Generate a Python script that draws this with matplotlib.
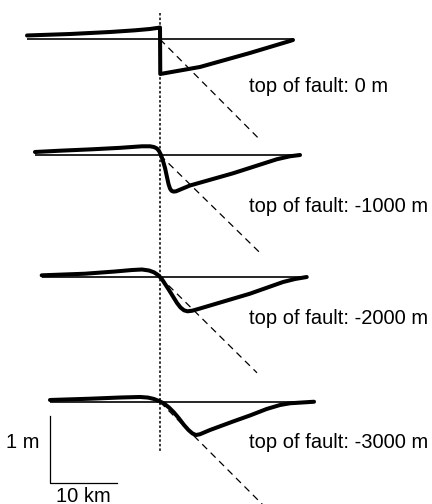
import matplotlib
matplotlib.use('Agg')
import matplotlib.pyplot as plt

plt.rcParams['font.family'] = ['Liberation Sans', 'DejaVu Sans']
plt.rcParams['lines.scale_dashes'] = False

# ---- data (x in km from fault trace, vertical displacement in m) ----
fault_top_labels = ["top of fault: 0 m", "top of fault: -1000 m",
                    "top of fault: -2000 m", "top of fault: -3000 m"]

p1_x = [-19.85, -13.43, -7.46, -3.73, -1.49, -0.15, 0.0, 0.04, 5.97, 13.43, 19.40, 19.85]
p1_y = [0.057, 0.079, 0.109, 0.134, 0.154, 0.173, 0.176, -0.518, -0.413, -0.204, -0.025, -0.010]

p2_x = [-18.66, -14.93, -10.15, -5.97, -2.69, -1.49, -0.90, -0.45, -0.15, 0.15, 0.45,
        0.75, 1.04, 1.27, 1.49, 1.72, 2.01, 2.39, 4.48, 10.90, 17.42, 19.40, 20.90]
p2_y = [0.045, 0.064, 0.085, 0.107, 0.130, 0.130, 0.119, 0.097, 0.060, 0.0, -0.090,
        -0.194, -0.328, -0.433, -0.500, -0.534, -0.546, -0.542, -0.455, -0.273, -0.064,
        -0.019, 0.0]

p3_x = [-17.66, -11.19, -6.72, -4.22, -2.69, -1.64, -0.90, -0.30, 0.22, 0.75, 1.34,
        1.94, 2.54, 3.06, 3.58, 4.10, 4.78, 5.97, 13.43, 18.36, 20.15, 21.90]
p3_y = [0.025, 0.049, 0.082, 0.104, 0.112, 0.097, 0.070, 0.030, -0.022, -0.104, -0.194,
        -0.291, -0.388, -0.455, -0.497, -0.512, -0.504, -0.470, -0.249, -0.075, -0.030, 0.0]

p4_x = [-16.42, -10.45, -5.97, -2.99, -1.79, -0.90, -0.15, 0.60, 1.34, 2.09, 2.84,
        3.58, 4.25, 4.85, 5.37, 5.97, 7.46, 10.90, 13.43, 15.93, 17.91, 19.40, 22.99]
p4_y = [0.030, 0.049, 0.067, 0.075, 0.066, 0.045, 0.015, -0.022, -0.082, -0.157, -0.246,
        -0.343, -0.418, -0.470, -0.493, -0.481, -0.418, -0.291, -0.201, -0.104, -0.045,
        -0.019, 0.004]

profiles_x = [p1_x, p2_x, p3_x, p4_x]
profiles_y = [p1_y, p2_y, p3_y, p4_y]

# fault-plane sketch end points (km, m) relative to the surface trace
fault_end_x = [14.93, 14.93, 14.48, 16.4]
fault_end_y = [-1.50, -1.46, -1.43, -1.64]

# ---- layout ----
PX_KM = 6.7   # pixels per km
PX_M = 67.0   # pixels per m
baseline_px = [39.3, 155.0, 277.0, 402.0]
label_px = [86, 207, 319, 442]

fig = plt.figure(figsize=(4.32, 5.04), dpi=100)
ax = fig.add_axes([0, 0, 1, 1])
ax.set_xlim(-160 / PX_KM, (432 - 160) / PX_KM)
ax.set_ylim(-504 / PX_M, 0)
ax.axis('off')

for i in range(4):
    off = -baseline_px[i] / PX_M
    xs = profiles_x[i]
    ys = [v + off for v in profiles_y[i]]
    ax.plot([xs[0], xs[-1]], [off, off], color='black', lw=1.2, solid_capstyle='butt')
    ax.plot(xs, ys, color='black', lw=2.9, solid_joinstyle='round', solid_capstyle='round')
    ax.plot([0, fault_end_x[i]], [off, off + fault_end_y[i]], color='black', lw=0.9,
            linestyle=(0, (5, 3.6)))
    ax.text((249 - 160) / PX_KM, -label_px[i] / PX_M, fault_top_labels[i],
            ha='left', va='center', fontsize=14.5, color='black')

# vertical dotted line through fault trace
ax.plot([0, 0], [-13 / PX_M, -452 / PX_M], color='black', lw=1.1, linestyle=(0, (1.8, 1.5)))

# scale bar
sx = (50 - 160) / PX_KM
sy_top = -416 / PX_M
sy_bot = sy_top - 1.0
ax.plot([sx, sx, sx + 10.0], [sy_top, sy_bot, sy_bot], color='black', lw=0.9)
ax.text((40 - 160) / PX_KM, -443 / PX_M, "1 m", ha='right', va='center', fontsize=14.5)
ax.text(sx + 5.0, -496 / PX_M, "10 km", ha='center', va='center', fontsize=14.5)

fig.savefig('out.png', dpi=100)
